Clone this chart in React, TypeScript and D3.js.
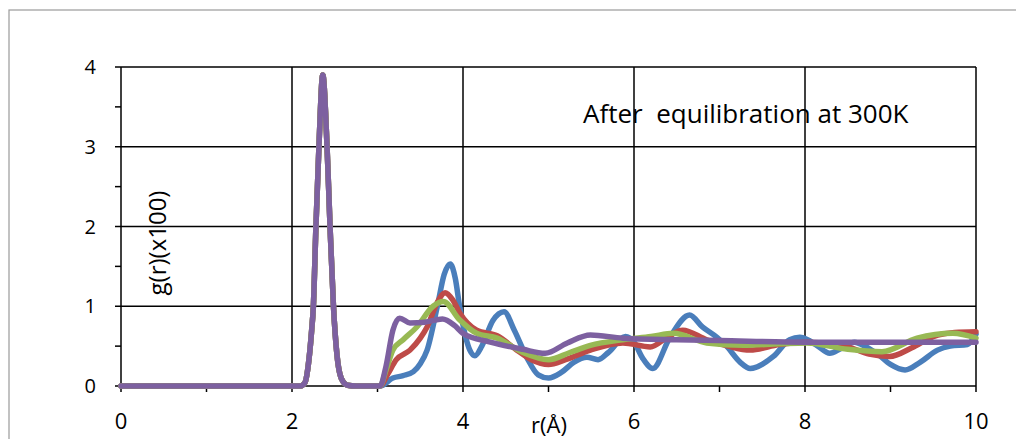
import React from "react";
import * as d3 from "d3";

type Pt = [number, number];

const xTicks = [0, 2, 4, 6, 8, 10];
const yTicks = [0, 1, 2, 3, 4];
const titleText = "After  equilibration at 300K";
const xAxisTitle = "r(Å)";
const yAxisTitle = "g(r)(x100)";

const firstPeak: Pt[] = [
  [0, 0], [1, 0], [2.1, 0], [2.15, 0.04], [2.2, 0.35], [2.23, 0.7], [2.25, 1.0],
  [2.28, 2.0], [2.315, 3.0], [2.36, 3.9], [2.41, 3.0], [2.445, 2.0], [2.485, 1.0],
  [2.525, 0.4], [2.575, 0.1], [2.65, 0.01], [2.75, 0],
];

const blueTail: Pt[] = [
  [2.9, 0], [3.03, 0], [3.18, 0.1], [3.3, 0.13], [3.42, 0.18], [3.5, 0.28], [3.58, 0.45],
  [3.7, 1.0], [3.78, 1.4], [3.85, 1.53], [3.91, 1.35], [3.96, 1.0], [4.03, 0.62],
  [4.08, 0.45], [4.14, 0.38], [4.22, 0.5], [4.35, 0.82], [4.48, 0.93], [4.6, 0.7],
  [4.75, 0.35], [4.88, 0.14], [5.0, 0.1], [5.15, 0.17], [5.3, 0.3], [5.45, 0.36],
  [5.58, 0.33], [5.7, 0.42], [5.9, 0.62], [6.0, 0.55], [6.1, 0.35], [6.22, 0.22],
  [6.42, 0.61], [6.65, 0.89], [6.8, 0.74], [6.97, 0.61], [7.09, 0.49], [7.24, 0.3],
  [7.36, 0.22], [7.63, 0.37], [7.82, 0.58], [7.94, 0.61], [8.05, 0.57], [8.15, 0.5],
  [8.29, 0.41], [8.42, 0.47], [8.58, 0.55], [8.7, 0.5], [8.85, 0.4], [9.0, 0.27],
  [9.17, 0.2], [9.35, 0.3], [9.55, 0.45], [9.7, 0.5], [9.9, 0.52], [10, 0.65],
];

const redTail: Pt[] = [
  [2.9, 0], [3.03, 0], [3.12, 0.15], [3.22, 0.33], [3.38, 0.45], [3.5, 0.6], [3.58, 0.74],
  [3.7, 1.05], [3.79, 1.17], [3.88, 1.08], [3.96, 0.92], [4.16, 0.7], [4.4, 0.63],
  [4.63, 0.45], [4.8, 0.33], [5.0, 0.27], [5.2, 0.33], [5.49, 0.45], [5.87, 0.54],
  [6.19, 0.49], [6.4, 0.62], [6.57, 0.7], [6.85, 0.58], [7.1, 0.5], [7.36, 0.45],
  [7.7, 0.52], [8.02, 0.55], [8.3, 0.53], [8.53, 0.48], [8.75, 0.4], [8.99, 0.37],
  [9.25, 0.48], [9.5, 0.62], [9.75, 0.67], [10, 0.68],
];

const greenTail: Pt[] = [
  [2.9, 0], [3.03, 0], [3.1, 0.2], [3.18, 0.45], [3.3, 0.58], [3.46, 0.74], [3.65, 1.0],
  [3.77, 1.06], [3.96, 0.83], [4.16, 0.66], [4.4, 0.6], [4.7, 0.42], [5.0, 0.33],
  [5.25, 0.42], [5.49, 0.51], [5.87, 0.58], [6.2, 0.62], [6.46, 0.66], [6.85, 0.54],
  [7.28, 0.51], [7.7, 0.53], [8.02, 0.54], [8.5, 0.46], [8.9, 0.43], [9.31, 0.6],
  [9.73, 0.66], [10, 0.6],
];

const purpleTail: Pt[] = [
  [2.9, 0], [3.03, 0], [3.1, 0.25], [3.18, 0.7], [3.26, 0.85], [3.38, 0.79], [3.55, 0.8],
  [3.76, 0.84], [3.9, 0.76], [4.0, 0.66], [4.32, 0.55], [4.7, 0.46], [4.96, 0.41],
  [5.22, 0.54], [5.49, 0.64], [5.87, 0.6], [6.5, 0.58], [7.0, 0.57], [8.0, 0.55],
  [9.0, 0.55], [10, 0.55],
];

const seriesColors = ["#4A7EBB", "#BE4B48", "#98B954", "#7D60A0"];
const seriesData: Pt[][] = [
  firstPeak.concat(blueTail),
  firstPeak.concat(redTail),
  firstPeak.concat(greenTail),
  firstPeak.concat(purpleTail),
];

const W = 1016;
const H = 439;
const left = 121;
const right = 976;
const top = 67;
const bottom = 386;

export default function App() {
  const x = d3.scaleLinear().domain([0, 10]).range([left, right]);
  const y = d3.scaleLinear().domain([0, 4]).range([bottom, top]);
  const line = d3
    .line<Pt>()
    .x((d) => x(d[0]))
    .y((d) => y(d[1]))
    .curve(d3.curveMonotoneX);

  const minorX = d3.range(0, 10.001, 1);
  const minorY = d3.range(0, 4.001, 0.5);
  const font = "'Open Sans', sans-serif";

  return (
    <svg
      width={W}
      height={H}
      style={{ position: "absolute", left: 0, top: 0, background: "#fff" }}
    >
      <rect x={9} y={10} width={1020} height={440} fill="#fff" stroke="#9a9a9a" strokeWidth={1.2} />
      {yTicks.map((t) => (
        <line key={"gy" + t} x1={left} x2={right} y1={y(t)} y2={y(t)} stroke="#000" strokeWidth={1.5} />
      ))}
      {xTicks.map((t) => (
        <line key={"gx" + t} x1={x(t)} x2={x(t)} y1={top} y2={bottom} stroke="#000" strokeWidth={1.5} />
      ))}
      {minorY.map((t) => (
        <line key={"ty" + t} x1={left - 6} x2={left} y1={y(t)} y2={y(t)} stroke="#000" strokeWidth={1.5} />
      ))}
      {minorX.map((t) => (
        <line key={"tx" + t} x1={x(t)} x2={x(t)} y1={bottom} y2={bottom + 6} stroke="#000" strokeWidth={1.5} />
      ))}
      {seriesData.map((s, i) => (
        <path
          key={"s" + i}
          d={line(s) || ""}
          fill="none"
          stroke={seriesColors[i]}
          strokeWidth={5.5}
          strokeLinejoin="round"
          strokeLinecap="round"
        />
      ))}
      {yTicks.map((t) => (
        <text key={"ly" + t} x={96} y={y(t) + 7} textAnchor="end" fontFamily={font} fontSize={20} fill="#000">
          {t}
        </text>
      ))}
      {xTicks.map((t) => (
        <text key={"lx" + t} x={x(t)} y={429} textAnchor="middle" fontFamily={font} fontSize={22} fill="#000">
          {t}
        </text>
      ))}
      <text x={549} y={433} textAnchor="middle" fontFamily={font} fontSize={22} fill="#000">
        {xAxisTitle}
      </text>
      <text
        transform={`translate(166,243) rotate(-90)`}
        textAnchor="middle"
        fontFamily={font}
        fontSize={24}
        fill="#000"
      >
        {yAxisTitle}
      </text>
      <text x={583} y={123} fontFamily={font} fontSize={26} fill="#000" style={{ whiteSpace: "pre" }}>
        {titleText}
      </text>
    </svg>
  );
}
